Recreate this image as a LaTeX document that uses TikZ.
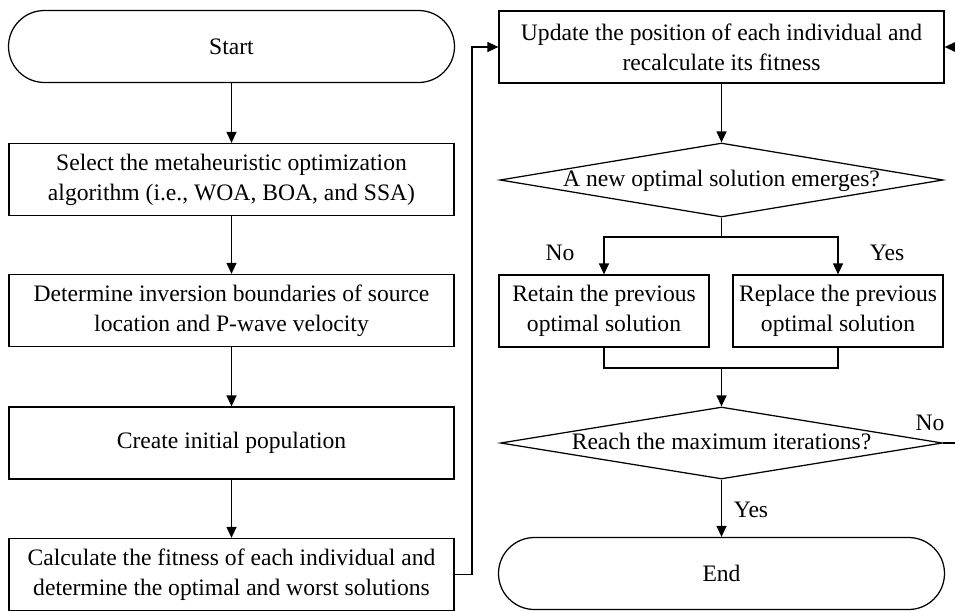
\documentclass[tikz,border=0pt]{standalone}
\usepackage{fontspec}
\setmainfont{Liberation Serif}
\usetikzlibrary{arrows.meta,shapes.geometric}
\begin{document}
\begin{tikzpicture}[x=1pt,y=-1pt,
  every node/.style={font=\fontsize{23.6}{30}\selectfont},
  base/.style={draw, line width=1.25pt, align=center, inner sep=0pt},
  procbox/.style={base, rectangle, minimum width=445pt, minimum height=72pt},
  smallbox/.style={base, rectangle, minimum width=210pt, minimum height=72pt},
  termbox/.style={base, rectangle, rounded corners=36pt, minimum width=446pt, minimum height=72pt},
  decbox/.style={base, diamond, aspect=6, text height=13pt, text depth=0pt, minimum width=443pt, minimum height=74pt},
  conn/.style={line width=1.25pt},
  arr/.style={conn, -{Triangle[length=11pt,width=10pt]}},
  lbl/.style={inner sep=0pt}
]
\useasboundingbox (0,0) rectangle (955,611);

% left column
\node[termbox] (start) at (231.5,46.5) {Start};
\node[procbox] (sel) at (231.5,179.5) {Select the metaheuristic optimization\\algorithm (i.e., WOA, BOA, and SSA)};
\node[procbox] (det) at (231.5,310.5) {Determine inversion boundaries of source\\location and P-wave velocity};
\node[procbox] (pop) at (231.5,443) {Create initial population};
\node[procbox] (fit) at (231.5,574.5) {Calculate the fitness of each individual and\\determine the optimal and worst solutions};

% right column
\node[procbox] (upd) at (721.5,47) {Update the position of each individual and\\recalculate its fitness};
\node[decbox] (dec1) at (721.5,180) {A new optimal solution emerges?};
\node[smallbox] (ret) at (604,311) {Retain the previous\\optimal solution};
\node[smallbox] (rep) at (838,311) {Replace the previous\\optimal solution};
\node[decbox, minimum width=442pt, minimum height=72pt] (dec2) at (721.5,443) {Reach the maximum iterations?};
\node[termbox] (endn) at (721.5,573.5) {End};

\coordinate (split) at (721.5,237);
\coordinate (merge) at (721.5,368);
\coordinate (loopL) at (472,0);
\coordinate (loopR) at (965,0);

% connectors
\draw[arr] (start) -- (sel);
\draw[arr] (sel) -- (det);
\draw[arr] (det) -- (pop);
\draw[arr] (pop) -- (fit);
\draw[arr] (fit.east) -- (fit.east -| loopL) -- (upd.west -| loopL) -- (upd.west);
\draw[arr] (upd) -- (dec1);
\draw[conn] (dec1.south) -- (split);
\draw[arr] (split) -| (ret.north);
\draw[arr] (split) -| (rep.north);
\draw[conn] (ret.south) |- (merge) -| (rep.south);
\draw[arr] (merge) -- (dec2.north);
\draw[arr] (dec2.south) -- (endn.north);
\draw[arr] (dec2.east) -- (dec2.east -| loopR) -- (upd.east -| loopR) -- (upd.east);

% labels
\node[lbl] (lno1) at (560,253) {No};
\node[lbl] (lyes1) at (887,253) {Yes};
\node[lbl] (lno2) at (930,423) {No};
\node[lbl] (lyes2) at (751,510) {Yes};
\end{tikzpicture}
\end{document}
